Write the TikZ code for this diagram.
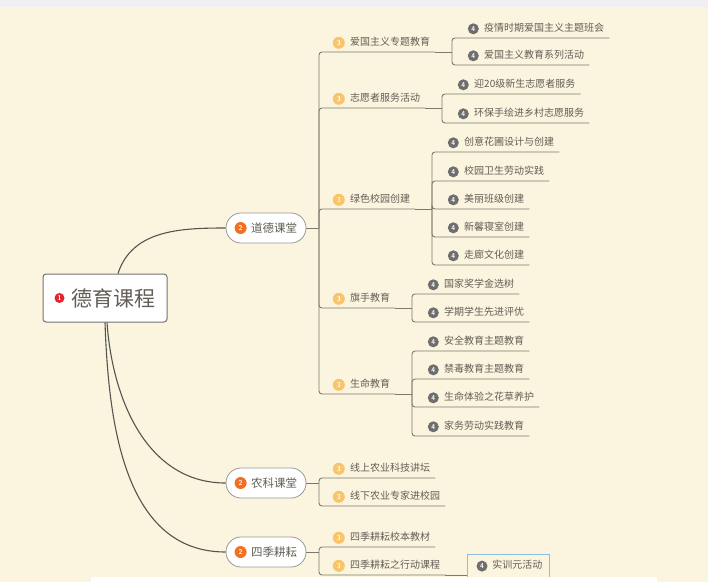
\documentclass[tikz,border=0pt]{standalone}
\usepackage{fontspec}
\newfontfamily\cjk{Noto Sans CJK SC}
\usetikzlibrary{positioning,calc}

\definecolor{cream}{RGB}{251,244,223}
\definecolor{topgray}{RGB}{240,239,241}
\definecolor{linkgray}{RGB}{125,120,108}
\definecolor{branchgray}{RGB}{85,85,80}
\definecolor{txtgray}{RGB}{98,94,86}
\definecolor{badgeone}{RGB}{227,38,45}
\definecolor{badgetwo}{RGB}{242,112,33}
\definecolor{badgethree}{RGB}{249,196,106}
\definecolor{badgefour}{RGB}{110,110,110}
\definecolor{selblue}{RGB}{140,190,225}

\tikzset{
  root/.style={draw=gray!90!black, fill=white, rounded corners=3pt, line width=1pt,
    minimum width=124pt, minimum height=48pt, inner sep=0pt,
    font=\cjk\fontsize{21}{24}\selectfont, text=txtgray},
  pill/.style={draw=gray!80, fill=white, rounded corners=15pt, line width=0.8pt,
    minimum width=80pt, minimum height=30pt, inner sep=0pt,
    font=\cjk\fontsize{11.5}{13}\selectfont, text=txtgray},
  topic/.style={anchor=south west, inner xsep=5pt, inner ysep=0pt, minimum height=18pt,
    text height=7pt, text depth=2pt, font=\cjk\fontsize{10}{12}\selectfont, text=txtgray},
  badge/.style={circle, inner sep=0pt, minimum size=11pt, text=white,
    font=\sffamily\bfseries\fontsize{7}{7}\selectfont},
  bone/.style={badge, fill=badgeone, minimum size=10pt},
  btwo/.style={badge, fill=badgetwo, minimum size=12pt},
  bthree/.style={badge, fill=badgethree, minimum size=12pt},
  bfour/.style={badge, fill=badgefour},
  tthree/.style={topic, label={[bthree]left:3}},
  tfour/.style={topic, label={[bfour]left:4}},
  link/.style={draw=linkgray, line width=0.9pt, rounded corners=3pt},
  branch/.style={draw=branchgray, line width=1.1pt},
}

\begin{document}
\begin{tikzpicture}[x=1pt,y=-1pt]
\useasboundingbox (0,0) rectangle (708,582);
\fill[cream] (0,0) rectangle (708,582);
\fill[topgray] (0,0) rectangle (708,7);

% root and second level
\node[root] (root) at (105,298) {\hspace{16pt}德育课程};
\node[bone] (rootb) at ([xshift=17pt]root.west) {1};
\node[pill] (dd) at (266,228) {\hspace{16pt}道德课堂};
\node[btwo] (ddb) at ([xshift=15pt]dd.west) {2};
\node[pill] (nk) at (266,483) {\hspace{16pt}农科课堂};
\node[btwo] (nkb) at ([xshift=15pt]nk.west) {2};
\node[pill] (sj) at (266,552) {\hspace{16pt}四季耕耘};
\node[btwo] (sjb) at ([xshift=15pt]sj.west) {2};

\draw[branch] ([xshift=13pt]root.north) to[out=72,in=180] (dd.west);
\draw[branch] ([xshift=2pt]root.south) to[out=-86,in=180] (nk.west);
\draw[branch] (root.south) to[out=-88,in=180] (sj.west);

% third level
\node[tthree] (ag) at (345,52) {爱国主义专题教育};
\node[tthree] (zy) at (345,108) {志愿者服务活动};
\node[tthree] (ls) at (345,209) {绿色校园创建};
\node[tthree] (qs) at (345,308) {旗手教育};
\node[tthree] (sm) at (345,394) {生命教育};
\node[tthree] (nk1) at (345,478) {线上农业科技讲坛};
\node[tthree] (nk2) at (345,506) {线下农业专家进校园};
\node[tthree] (sj1) at (345,547) {四季耕耘校本教材};
\node[tthree] (sj2) at (345,575) {四季耕耘之行动课程};

% fourth level
\node[tfour] (ag1) at (479,38) {疫情时期爱国主义主题班会};
\node[tfour] (ag2) at (479,65) {爱国主义教育系列活动};
\node[tfour] (zy1) at (469,94) {迎20级新生志愿者服务};
\node[tfour] (zy2) at (469,123) {环保手绘进乡村志愿服务};
\node[tfour] (ls1) at (459,152) {创意花圃设计与创建};
\node[tfour] (ls2) at (459,181) {校园卫生劳动实践};
\node[tfour] (ls3) at (459,209) {美丽班级创建};
\node[tfour] (ls4) at (459,237) {新馨寝室创建};
\node[tfour] (ls5) at (459,265) {走廊文化创建};
\node[tfour] (qs1) at (439,294) {国家奖学金选树};
\node[tfour] (qs2) at (439,322) {学期学生先进评优};
\node[tfour] (sm1) at (439,351) {安全教育主题教育};
\node[tfour] (sm2) at (439,379) {禁毒教育主题教育};
\node[tfour] (sm3) at (439,407) {生命体验之花草养护};
\node[tfour] (sm4) at (439,436) {家务劳动实践教育};
\node[topic, draw=selblue, line width=0.8pt, minimum height=23pt, inner xsep=7pt]
  (sx) at (467,578) {\hspace{18pt}实训元活动};
\node[bfour] (sxb) at ([xshift=15pt]sx.west) {4};

% bars
\coordinate (ddbar) at (319,228);
\coordinate (nkbar) at (319,483);
\coordinate (sjbar) at (319,552);
\coordinate (agbar) at (452,52);
\coordinate (zybar) at (442,108);
\coordinate (lsbar) at (432,209);
\coordinate (qsbar) at (412,308);
\coordinate (smbar) at (412,394);

\draw[link] (dd.east) -- (ddbar);
\draw[link] (nk.east) -- (nkbar);
\draw[link] (sj.east) -- (sjbar);
\foreach \t in {ag,zy,ls,qs,sm}
  \draw[link] (ddbar) |- (\t.south east);
\foreach \t in {nk1,nk2}
  \draw[link] (nkbar) |- (\t.south east);
\foreach \t in {sj1,sj2}
  \draw[link] (sjbar) |- (\t.south east);
\foreach \p/\kids in {ag/{ag1,ag2},zy/{zy1,zy2},ls/{ls1,ls2,ls3,ls4,ls5},qs/{qs1,qs2},sm/{sm1,sm2,sm3,sm4}}{
  \draw[link] (\p.south east) -- (\p bar);
  \foreach \k in \kids
    \draw[link] (\p bar) |- (\k.south east);
}
\draw[link] (sj2.south east) -- (sj2.south east -| sx.west);

\fill[white] (91,577) rectangle (657,582);
\end{tikzpicture}
\end{document}
